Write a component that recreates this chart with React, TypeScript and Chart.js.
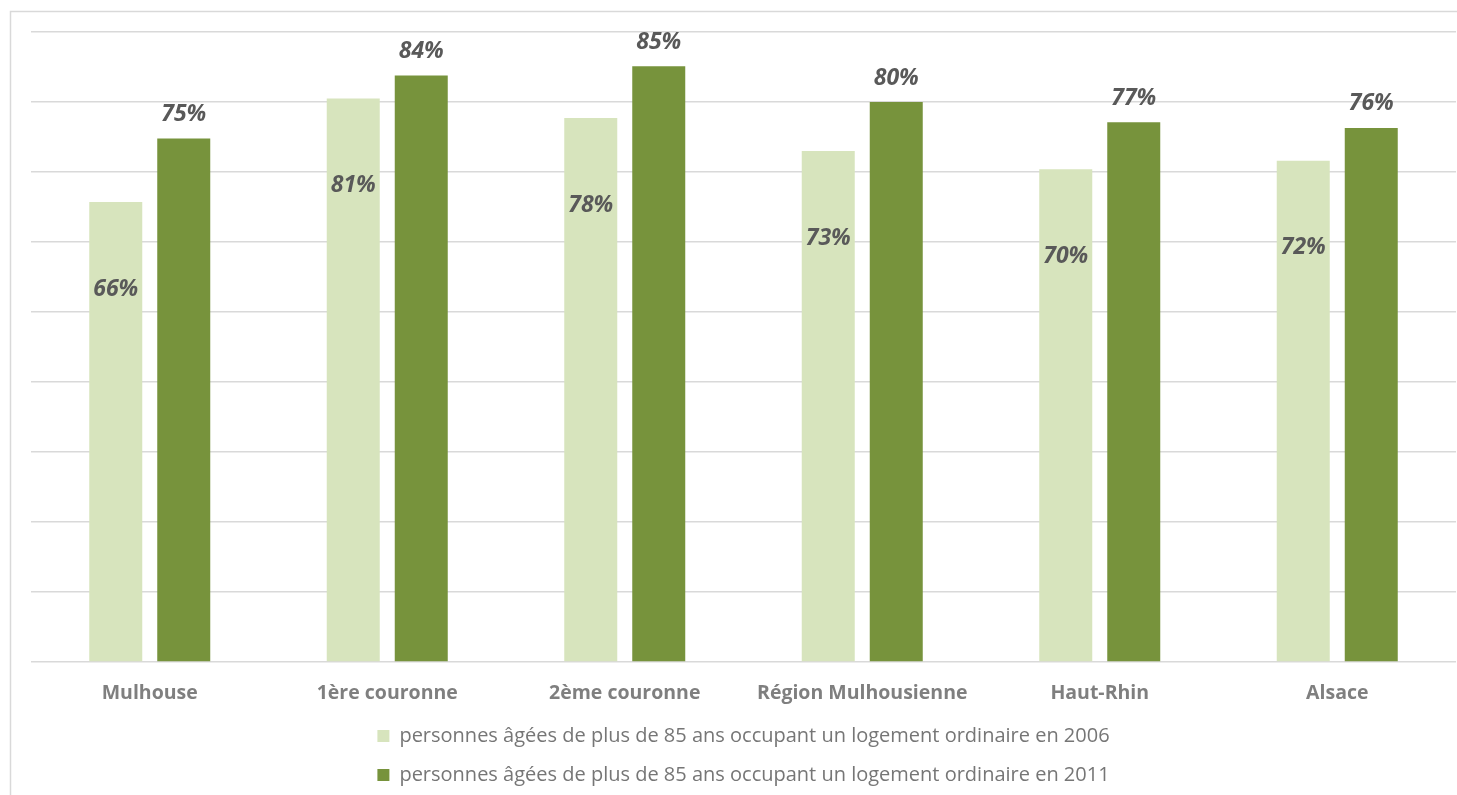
import React, { useEffect, useRef } from "react";
import { Chart, registerables } from "chart.js";

Chart.register(...registerables);

const categories = [
  "Mulhouse",
  "1ère couronne",
  "2ème couronne",
  "Région Mulhousienne",
  "Haut-Rhin",
  "Alsace",
];
const values2006 = [65.7, 80.5, 77.7, 73.0, 70.4, 71.6];
const values2011 = [74.8, 83.8, 85.1, 80.0, 77.1, 76.3];
const seriesLabels = [
  "personnes âgées de plus de 85 ans occupant un logement ordinaire en 2006",
  "personnes âgées de plus de 85 ans occupant un logement ordinaire en 2011",
];
const yMax = 90;
const yStep = 10;

const FONT = "'Open Sans', 'Liberation Sans', sans-serif";

const framePlugin = {
  id: "frame",
  beforeDraw(chart: any) {
    const ctx = chart.ctx;
    ctx.save();
    ctx.strokeStyle = "#d9d9d9";
    ctx.lineWidth = 1.5;
    ctx.beginPath();
    ctx.moveTo(10.5, chart.height + 5);
    ctx.lineTo(10.5, 11.5);
    ctx.lineTo(chart.width + 5, 11.5);
    ctx.stroke();
    ctx.restore();
  },
};

const labelPlugin = {
  id: "valueLabels",
  afterDatasetsDraw(chart: any) {
    const ctx = chart.ctx;
    ctx.save();
    ctx.font = `italic bold 23px ${FONT}`;
    ctx.fillStyle = "#595959";
    ctx.textAlign = "center";
    ctx.textBaseline = "middle";
    chart.data.datasets.forEach((ds: any, di: number) => {
      const meta = chart.getDatasetMeta(di);
      meta.data.forEach((bar: any, i: number) => {
        const txt = Math.round(ds.data[i]) + "%";
        const y = di === 0 ? bar.y + 87 : bar.y - 24;
        ctx.fillText(txt, bar.x, y);
      });
    });
    ctx.restore();
  },
};

export default function App() {
  const ref = useRef<HTMLCanvasElement | null>(null);

  useEffect(() => {
    document.body.style.margin = "0";
    const canvas = ref.current!;
    const chart = new Chart(canvas, {
      type: "bar",
      data: {
        labels: categories,
        datasets: [
          {
            label: seriesLabels[0],
            data: values2006,
            backgroundColor: "#d7e4bd",
            borderWidth: 0,
            categoryPercentage: 0.5726,
            barPercentage: 0.7794,
          },
          {
            label: seriesLabels[1],
            data: values2011,
            backgroundColor: "#77933c",
            borderWidth: 0,
            categoryPercentage: 0.5726,
            barPercentage: 0.7794,
          },
        ],
      },
      options: {
        animation: false,
        responsive: false,
        maintainAspectRatio: false,
        layout: { padding: { left: 31, right: 1, top: 32, bottom: 0 } },
        plugins: {
          tooltip: { enabled: false },
          legend: {
            position: "bottom",
            labels: {
              boxWidth: 12,
              boxHeight: 12,
              padding: 19,
              color: "#767676",
              font: { family: FONT, size: 20 },
            },
          },
        },
        scales: {
          x: {
            grid: { display: false, drawTicks: false },
            border: { display: false },
            ticks: {
              color: "#7f7f7f",
              padding: 20,
              font: { family: FONT, size: 19.5, weight: "bold" },
              maxRotation: 0,
            },
            afterFit: (scale: any) => {
              scale.height = 45;
            },
          },
          y: {
            min: 0,
            max: yMax,
            ticks: { display: false, stepSize: yStep },
            grid: { color: "#d9d9d9", lineWidth: 1.5, drawTicks: false },
            border: { display: false },
            afterFit: (scale: any) => {
              scale.width = 0;
            },
          },
        },
      },
      plugins: [framePlugin, labelPlugin],
    });
    return () => chart.destroy();
  }, []);

  return (
    <div style={{ width: 1457, height: 795 }}>
      <canvas ref={ref} width={1457} height={795} style={{ display: "block" }} />
    </div>
  );
}
